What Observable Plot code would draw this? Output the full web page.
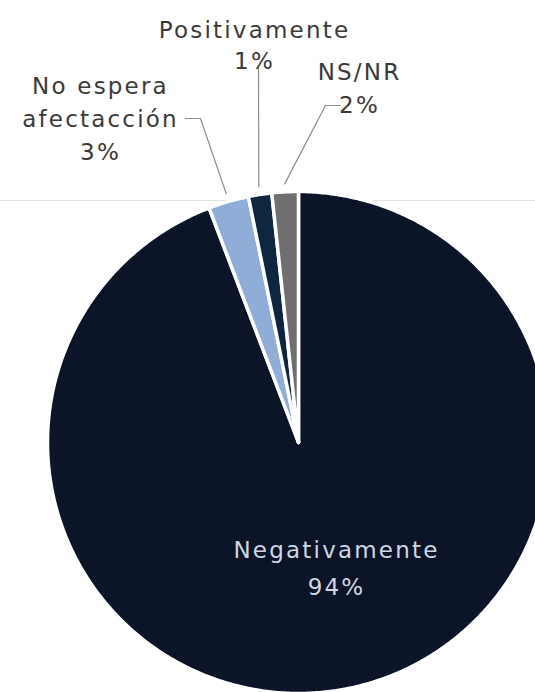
<!DOCTYPE html>
<html>
<head>
<meta charset="utf-8">
<script src="https://cdn.jsdelivr.net/npm/d3@7"></script>
<script src="https://cdn.jsdelivr.net/npm/@observablehq/plot@0.6"></script>
<style>
  html, body { margin: 0; padding: 0; background: #fff; }
  #chart svg { display: block; }
  #chart svg text { letter-spacing: 2.2px; }
</style>
</head>
<body>
<div id="chart"></div>
<script>
// ---- data ----
const categories = ["Negativamente", "No espera\nafectacción", "Positivamente", "NS/NR"];
const values = [94.2, 2.6, 1.5, 1.7];
const valueLabels = ["94%", "3%", "1%", "2%"];

// ---- styles ----
const colors = ["#0c1427", "#8fadd6", "#0f2640", "#6f6f6f"];
const textColors = ["#d0d7e2", "#3a3a3a", "#3a3a3a", "#3a3a3a"];

// ---- layout ----
const W = 535, H = 692;
const cx = 298, cy = 442, R = 251;
const fontFamily = "'DejaVu Sans', sans-serif";
const fontSize = 23;
// label placement (anchor x, first-line baseline, line spacing) and leader elbows
const labelLayout = {
  "Negativamente": {x: 336, base: 548, lh: 37, leader: null},
  "No espera\nafectacción": {x: 100, base: 86, lh: 33, leader: [[200, 118], [185, 118]]},
  "Positivamente": {x: 254, base: 32, lh: 31, leader: [[258, 67]]},
  "NS/NR": {x: 359, base: 72, lh: 33, leader: [[325, 105], [340, 105]]}
};

const arcs = d3.pie().sort(null).startAngle(0).endAngle(2 * Math.PI)(values);

// slice polygons
const slicePts = [];
arcs.forEach((a, i) => {
  const cat = categories[i];
  slicePts.push({cat, x: cx, y: cy});
  const n = Math.max(4, Math.ceil((a.endAngle - a.startAngle) / (Math.PI / 360)));
  for (let k = 0; k <= n; k++) {
    const t = a.startAngle + (a.endAngle - a.startAngle) * k / n;
    slicePts.push({cat, x: cx + R * Math.sin(t), y: cy - R * Math.cos(t)});
  }
});

// leader lines
const leaderPts = [];
arcs.forEach((a, i) => {
  const cat = categories[i];
  const L = labelLayout[cat].leader;
  if (!L) return;
  const mid = (a.startAngle + a.endAngle) / 2;
  const rr = R + 8;
  leaderPts.push({cat, x: cx + rr * Math.sin(mid), y: cy - rr * Math.cos(mid)});
  L.forEach(([x, y]) => leaderPts.push({cat, x, y}));
});

const textMarks = categories.map((cat, i) => {
  const L = labelLayout[cat];
  return Plot.text([{t: cat + "\n" + valueLabels[i]}], {
    x: () => L.x,
    y: () => L.base - 0.71 * fontSize,
    text: "t",
    textAnchor: "middle",
    lineAnchor: "top",
    lineHeight: L.lh / fontSize,
    fontSize,
    fontFamily,
    fill: textColors[i]
  });
});

const chart = Plot.plot({
  width: W,
  height: H,
  margin: 0,
  x: {domain: [0, W], range: [0, W], axis: null},
  y: {domain: [0, H], range: [0, H], axis: null},
  color: {domain: categories, range: colors},
  style: {background: "#fff", fontFamily},
  marks: [
    Plot.ruleY([200], {stroke: "#e2e2e2", strokeWidth: 1.2}),
    Plot.line(slicePts, {
      x: "x", y: "y", z: "cat", fill: "cat",
      curve: "linear-closed",
      stroke: "#fff", strokeWidth: 3.5, strokeLinejoin: "round"
    }),
    Plot.line(leaderPts, {x: "x", y: "y", z: "cat", stroke: "#8c8c8c", strokeWidth: 1.2}),
    ...textMarks
  ]
});
document.getElementById("chart").appendChild(chart);
</script>
</body>
</html>
